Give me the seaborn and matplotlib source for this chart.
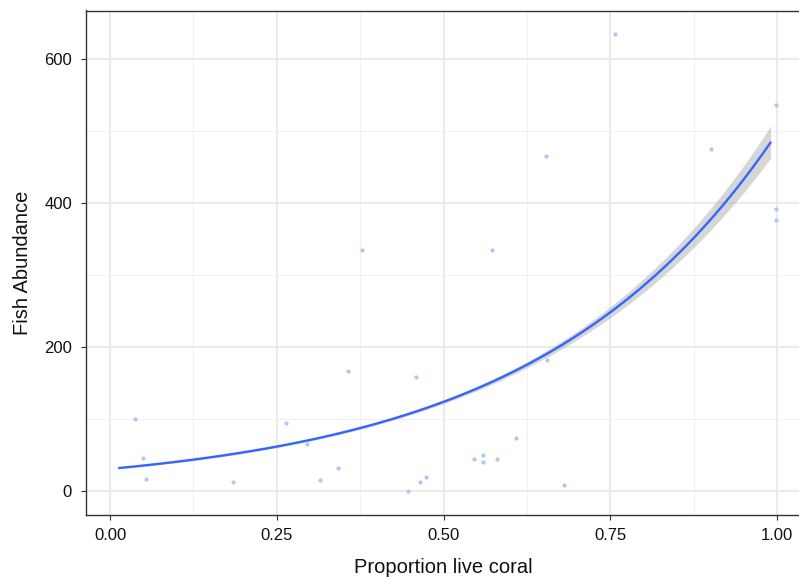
import numpy as np
import pandas as pd
import matplotlib
matplotlib.use("Agg")
import matplotlib.pyplot as plt
import seaborn as sns

# ---- data ----
coral = [0.037, 0.049, 0.054, 0.185, 0.264, 0.295, 0.315, 0.341, 0.357, 0.378,
         0.447, 0.458, 0.465, 0.473, 0.546, 0.559, 0.559, 0.572, 0.580, 0.608,
         0.655, 0.654, 0.681, 0.757, 0.901, 0.998, 0.998, 0.998]
fish = [100, 46, 17, 13, 94, 66, 15, 32, 167, 335,
        0, 159, 13, 20, 44, 50, 41, 335, 44, 74,
        182, 465, 9, 634, 475, 536, 392, 376]

# Poisson GLM (log link) smooth
fit_range = [0.0135, 0.99]
fit_coef = [3.43, 2.78]            # intercept, slope on log scale
fit_vcov = [0.000415, -0.00069, 0.001533]  # var(b0), cov(b0,b1), var(b1)

x_ticks = [0.00, 0.25, 0.50, 0.75, 1.00]
x_tick_labels = ["0.00", "0.25", "0.50", "0.75", "1.00"]
y_ticks = [0, 200, 400, 600]
y_tick_labels = ["0", "200", "400", "600"]

df = pd.DataFrame({"coral": coral, "fish": fish})

xs = np.linspace(fit_range[0], fit_range[1], 80)
eta = fit_coef[0] + fit_coef[1] * xs
se = np.sqrt(fit_vcov[0] + 2 * fit_vcov[1] * xs + fit_vcov[2] * xs ** 2)
fit_df = pd.DataFrame({"coral": xs, "fish": np.exp(eta),
                       "lo": np.exp(eta - 1.96 * se), "hi": np.exp(eta + 1.96 * se)})

sns.set_theme(style="white")
plt.rcParams["font.family"] = ["Liberation Sans", "DejaVu Sans"]

fig = plt.figure(figsize=(7.99, 5.77), dpi=100)
ax = fig.add_axes([86 / 799, 1 - 514.7 / 577, 1 - 86 / 799 + 0.002, (514.7 - 10.5) / 577])

# grid
for v in [0.125, 0.375, 0.625, 0.875]:
    ax.axvline(v, color="#F0F0F0", lw=0.7, zorder=0)
for v in [100, 300, 500]:
    ax.axhline(v, color="#F0F0F0", lw=0.7, zorder=0)
for v in x_ticks:
    ax.axvline(v, color="#EBEBEB", lw=1.4, zorder=0)
for v in y_ticks:
    ax.axhline(v, color="#EBEBEB", lw=1.4, zorder=0)

sns.scatterplot(data=df, x="coral", y="fish", ax=ax, color="#AFC6F6",
                s=9, linewidth=0, zorder=3)
ax.fill_between(fit_df["coral"], fit_df["lo"], fit_df["hi"], color="#999999",
                alpha=0.4, linewidth=0, zorder=2)
sns.lineplot(data=fit_df, x="coral", y="fish", ax=ax, color="#3366FF",
             lw=1.7, zorder=4)

ax.set_xlim(-0.036, 1.035)
ax.set_ylim(-32.8, 667.3)
ax.set_xticks(x_ticks)
ax.set_xticklabels(x_tick_labels)
ax.set_yticks(y_ticks)
ax.set_yticklabels(y_tick_labels)
ax.tick_params(axis="both", which="major", length=3.5, width=0.8, color="#333333",
               labelsize=12, labelcolor="#111111", bottom=True, left=True)
ax.tick_params(axis="y", pad=6.5)
ax.tick_params(axis="x", pad=6)
ax.grid(False)
for s in ax.spines.values():
    s.set_color("#333333")
    s.set_linewidth(1.0)

ax.set_xlabel("Proportion live coral", fontsize=14.5, color="#111111", labelpad=11)
ax.set_ylabel("Fish Abundance", fontsize=14.5, color="#111111", labelpad=9)

fig.savefig("out.png", dpi=100)
